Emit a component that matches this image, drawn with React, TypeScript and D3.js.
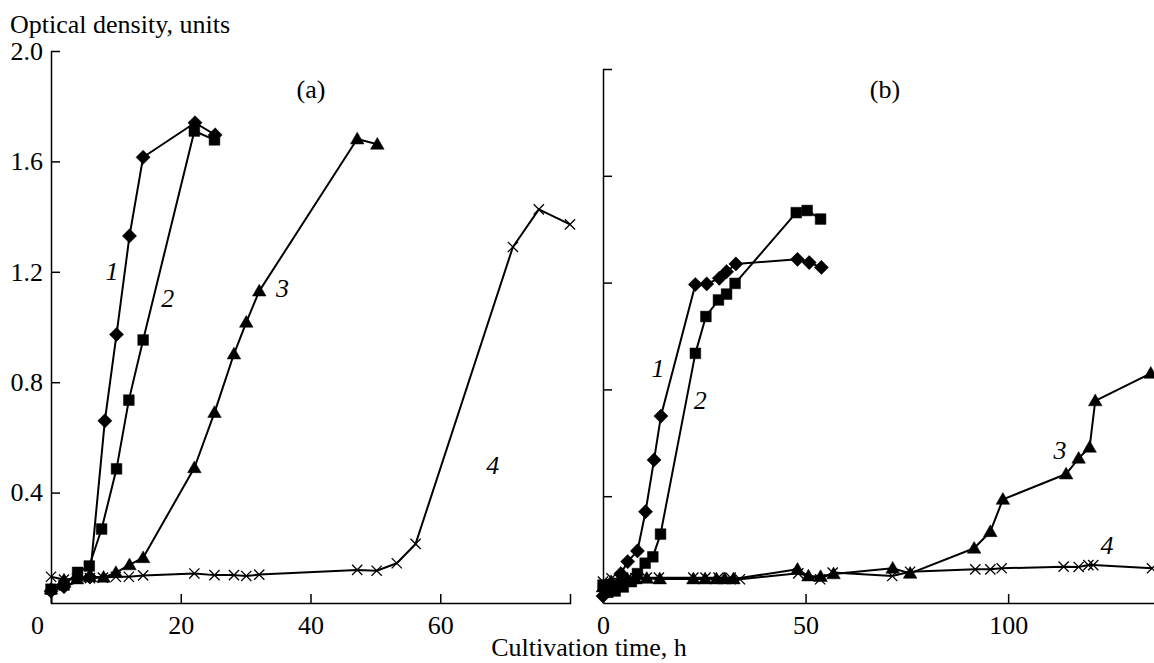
import { useEffect, useRef } from 'react';
import * as d3 from 'd3';

// panel (a): time, h
const a1Time = [0, 2, 6, 8.3, 10.1, 12.1, 14.2, 22.2, 25.3];
const a1Od = [0.043, 0.059, 0.094, 0.66, 0.973, 1.33, 1.615, 1.74, 1.696];
const a2Time = [0, 2, 4.1, 5.9, 7.8, 10.1, 12, 14.2, 22.1, 25.2];
const a2Od = [0.05, 0.065, 0.111, 0.134, 0.268, 0.486, 0.735, 0.953, 1.71, 1.678];
const a3Time = [0, 2, 4, 6, 8.1, 10, 12.1, 14.2, 22.1, 25.2, 28.2, 30.1, 32.1, 47.2, 50.3];
const a3Od = [0.05, 0.083, 0.087, 0.095, 0.093, 0.11, 0.138, 0.164, 0.49, 0.69, 0.902, 1.017, 1.13, 1.681, 1.662];
const a4Time = [0, 2, 4, 6, 8, 10, 12, 14.2, 22.1, 25.2, 28.2, 30.1, 32.1, 47.2, 50.2, 53.3, 56.2, 71.2, 75.2, 80];
const a4Od = [0.095, 0.085, 0.088, 0.09, 0.092, 0.095, 0.095, 0.1, 0.107, 0.101, 0.101, 0.098, 0.103, 0.12, 0.117, 0.144, 0.214, 1.29, 1.426, 1.372];

// panel (b)
const b1Time = [0, 2.1, 4.4, 6.1, 8.5, 10.5, 12.6, 14.3, 22.8, 25.6, 28.7, 30.5, 32.8, 48, 50.9, 53.9];
const b1Od = [0.026, 0.061, 0.11, 0.155, 0.195, 0.342, 0.536, 0.7, 1.193, 1.195, 1.216, 1.241, 1.27, 1.287, 1.275, 1.257];
const b2Time = [0, 1.2, 3, 5, 7, 8.5, 10.4, 12.3, 14.2, 22.8, 25.4, 28.5, 30.5, 32.6, 47.7, 50.4, 53.7];
const b2Od = [0.067, 0.04, 0.045, 0.06, 0.08, 0.11, 0.149, 0.173, 0.258, 0.935, 1.073, 1.135, 1.157, 1.197, 1.462, 1.47, 1.438];
const b3Time = [0, 2, 4, 6, 8, 10.8, 14, 22.3, 25.2, 28, 30, 32.2, 48, 50.7, 53.7, 56.9, 71.5, 75.8, 91.6, 95.6, 98.7, 114.3, 117.4, 120.1, 121.5, 135.2];
const b3Od = [0.06, 0.08, 0.085, 0.09, 0.09, 0.092, 0.09, 0.09, 0.09, 0.09, 0.09, 0.09, 0.126, 0.101, 0.099, 0.109, 0.13, 0.111, 0.205, 0.267, 0.388, 0.483, 0.542, 0.583, 0.757, 0.86];
const b4Time = [0, 2.1, 4, 6, 8, 10.8, 13.8, 22.3, 25.3, 28.5, 31.5, 33.8, 48.2, 53.6, 56.7, 71.4, 75.8, 91.9, 95.6, 98.4, 113.7, 117.4, 119.8, 121, 135.5];
const b4Od = [0.08, 0.092, 0.09, 0.092, 0.093, 0.095, 0.095, 0.095, 0.095, 0.095, 0.095, 0.089, 0.111, 0.089, 0.114, 0.101, 0.117, 0.126, 0.126, 0.13, 0.136, 0.135, 0.142, 0.142, 0.13];

const yTicks = [0.4, 0.8, 1.2, 1.6, 2.0];
const aXTicks = [0, 20, 40, 60];
const bXTicks = [0, 50, 100];

const seriesNames = ['1', '2', '3', '4'];
// label anchor (time, OD) for the curve numbers
const aLabelTime = [9.4, 18.0, 35.7, 68.1];
const aLabelOd = [1.2, 1.105, 1.14, 0.5];
const bLabelTime = [13.6, 24, 112.8, 124.4];
const bLabelOd = [0.88, 0.76, 0.573, 0.217];

const FONT = "'Liberation Serif', 'Times New Roman', Times, 'DejaVu Serif', serif";

export default function App() {
  const svgRef = useRef<SVGSVGElement>(null);

  useEffect(() => {
    if (!svgRef.current) return;
    const svg = d3.select(svgRef.current);
    svg.selectAll('*').remove();

    const baseY = 603;
    const panels = [
      {
        x: d3.scaleLinear().domain([0, 80]).range([51, 570]),
        y: d3.scaleLinear().domain([0, 2]).range([baseY, 51]),
        xTicks: aXTicks,
        yLabels: true,
        outerX: -9,
        zeroShift: -14,
        series: [[a1Time, a1Od], [a2Time, a2Od], [a3Time, a3Od], [a4Time, a4Od]],
        labT: aLabelTime, labV: aLabelOd,
        name: '(a)', nameX: 311,
      },
      {
        x: d3.scaleLinear().domain([0, 136]).range([603, 1154]),
        y: d3.scaleLinear().domain([0, 2]).range([baseY, 69]),
        xTicks: bXTicks,
        yLabels: false,
        outerX: 0,
        zeroShift: 0,
        series: [[b1Time, b1Od], [b2Time, b2Od], [b3Time, b3Od], [b4Time, b4Od]],
        labT: bLabelTime, labV: bLabelOd,
        name: '(b)', nameX: 885,
      },
    ];

    const markers = [
      d3.symbol().type(d3.symbolSquare).size(100),  // diamond (rotated square)
      d3.symbol().type(d3.symbolSquare).size(115),
      d3.symbol().type(d3.symbolTriangle).size(80),
      d3.symbol().type(d3.symbolX).size(70),
    ];

    panels.forEach((p) => {
      const g = svg.append('g');

      // X axis
      const xa = g.append('g')
        .attr('transform', `translate(0,${baseY})`)
        .call(d3.axisBottom(p.x).tickValues(p.xTicks).tickSizeInner(-9).tickSizeOuter(p.outerX).tickPadding(13).tickFormat(d3.format('d')));
      xa.attr('font-family', FONT);
      xa.selectAll('text').attr('font-size', 26).attr('font-family', FONT).attr('fill', '#000')
        .attr('dx', (d) => (d === 0 ? p.zeroShift : 0));
      xa.selectAll('line, path').attr('stroke', '#000').attr('stroke-width', 1.5);

      // Y axis
      const ya = g.append('g')
        .attr('transform', `translate(${p.x.range()[0]},0)`)
        .call(d3.axisLeft(p.y).tickValues(yTicks).tickSizeInner(-9).tickSizeOuter(0).tickPadding(8)
          .tickFormat(p.yLabels ? d3.format('.1f') : () => ''));
      ya.attr('font-family', FONT);
      ya.selectAll('text').attr('font-size', 26).attr('font-family', FONT).attr('fill', '#000');
      ya.selectAll('line, path').attr('stroke', '#000').attr('stroke-width', 1.5);

      p.series.forEach(([ts, vs], si) => {
        const pts = ts.map((t, i) => [p.x(t), p.y(vs[i])] as [number, number]);
        g.append('path')
          .attr('d', d3.line()(pts))
          .attr('fill', 'none')
          .attr('stroke', '#000')
          .attr('stroke-width', 2)
          .attr('stroke-linejoin', 'round');

        g.append('g').selectAll('path')
          .data(pts)
          .join('path')
          .attr('d', markers[si]() as string)
          .attr('transform', ([x, y]) => `translate(${x},${y})${si === 0 ? ' rotate(45)' : ''}${si === 2 ? ' translate(0,1)' : ''}`)
          .attr('fill', si === 3 ? 'none' : '#000')
          .attr('stroke', '#000')
          .attr('stroke-width', si === 3 ? 1.3 : 0.5);
      });

      // curve numbers
      seriesNames.forEach((n, i) => {
        g.append('text')
          .attr('x', p.x(p.labT[i]))
          .attr('y', p.y(p.labV[i]))
          .attr('text-anchor', 'middle')
          .attr('dominant-baseline', 'central')
          .attr('font-size', 26)
          .attr('font-style', 'italic')
          .attr('font-family', FONT)
          .text(n);
      });

      g.append('text')
        .attr('x', p.nameX).attr('y', 98)
        .attr('text-anchor', 'middle')
        .attr('font-size', 26)
        .attr('font-family', FONT)
        .text(p.name);
    });

    svg.append('text')
      .attr('x', 10).attr('y', 33)
      .attr('font-size', 26)
      .attr('font-family', FONT)
      .text('Optical density, units');

    svg.append('text')
      .attr('x', 589).attr('y', 656)
      .attr('text-anchor', 'middle')
      .attr('font-size', 26)
      .attr('font-family', FONT)
      .text('Cultivation time, h');
  }, []);

  return (
    <svg ref={svgRef} width={1154} height={663}
      style={{ position: 'absolute', left: 0, top: 0, background: '#fff', fontFamily: FONT }} />
  );
}
